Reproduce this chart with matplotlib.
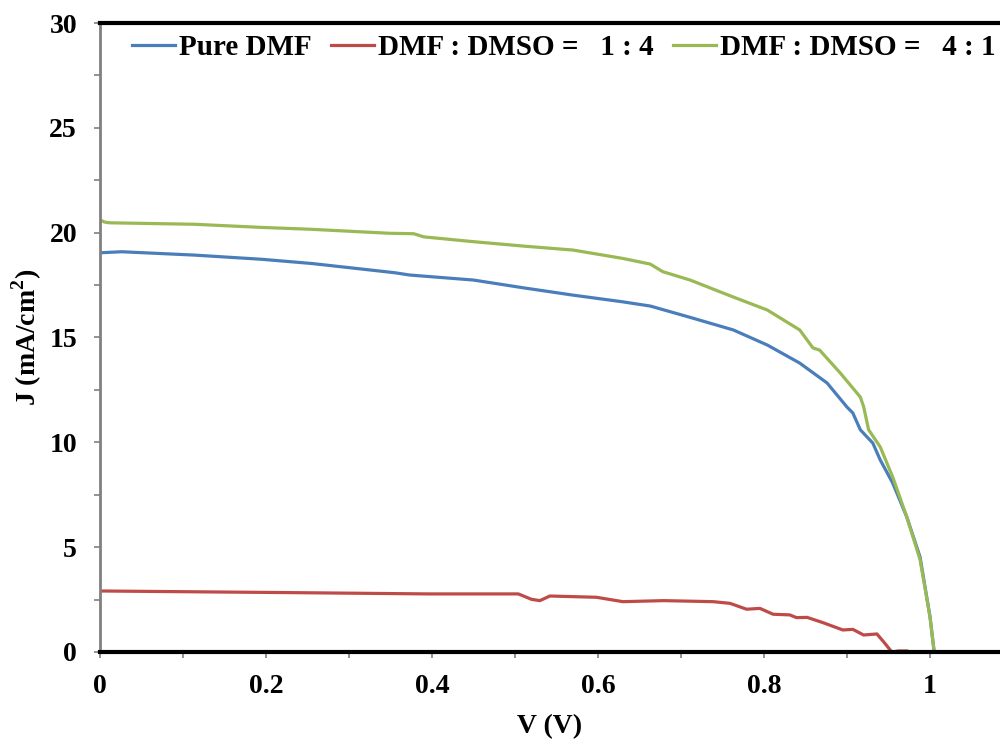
import matplotlib
matplotlib.use("Agg")
import matplotlib.pyplot as plt
from matplotlib.ticker import MultipleLocator

# J-V curves for perovskite films from different solvent ratios
v_pure = [0, 0.026, 0.114, 0.195, 0.255, 0.355, 0.373, 0.45, 0.51, 0.57, 0.63, 0.663,
          0.711, 0.763, 0.804, 0.843, 0.876, 0.9, 0.907, 0.916, 0.924, 0.931, 0.94,
          0.955, 0.972, 0.988, 1.0, 1.005]
j_pure = [19.04, 19.09, 18.93, 18.73, 18.53, 18.09, 17.98, 17.74, 17.37, 17.02, 16.7, 16.5,
          15.96, 15.36, 14.64, 13.78, 12.83, 11.68, 11.4, 10.6, 10.26, 9.97, 9.16,
          8.06, 6.44, 4.53, 1.67, 0]

v_14 = [0, 0.235, 0.395, 0.504, 0.52, 0.53, 0.542, 0.598, 0.63, 0.679, 0.739, 0.759,
        0.779, 0.795, 0.811, 0.831, 0.839, 0.852, 0.871, 0.895, 0.907, 0.92, 0.936,
        0.944, 0.954, 0.962, 0.972]
j_14 = [2.91, 2.83, 2.77, 2.77, 2.51, 2.45, 2.67, 2.61, 2.4, 2.45, 2.4, 2.32,
        2.04, 2.08, 1.8, 1.77, 1.64, 1.65, 1.4, 1.05, 1.08, 0.81, 0.86,
        0.49, 0.0, 0.05, 0.05]

v_41 = [0, 0.006, 0.012, 0.114, 0.195, 0.255, 0.349, 0.378, 0.39, 0.45, 0.51, 0.57,
        0.63, 0.663, 0.678, 0.711, 0.763, 0.804, 0.843, 0.859, 0.867, 0.892, 0.916,
        0.92, 0.926, 0.94, 0.955, 0.972, 0.988, 1.0, 1.005]
j_41 = [20.6, 20.5, 20.47, 20.4, 20.25, 20.16, 19.97, 19.95, 19.8, 19.57, 19.36, 19.17,
        18.77, 18.5, 18.14, 17.74, 16.93, 16.31, 15.36, 14.5, 14.4, 13.3, 12.16,
        11.7, 10.6, 9.78, 8.35, 6.44, 4.4, 1.67, 0]

labels = ["Pure DMF", "DMF : DMSO =   1 : 4", "DMF : DMSO =   4 : 1"]
x_ticks = [0, 0.2, 0.4, 0.6, 0.8, 1.0]
x_tick_labels = ["0", "0.2", "0.4", "0.6", "0.8", "1"]
y_ticks = [0, 5, 10, 15, 20, 25, 30]

plt.rcParams["font.family"] = ["Liberation Serif", "DejaVu Serif"]
plt.rcParams["font.weight"] = "bold"
plt.rcParams["mathtext.fontset"] = "custom"
plt.rcParams["mathtext.rm"] = "Liberation Serif:bold"
plt.rcParams["mathtext.bf"] = "Liberation Serif:bold"

fig = plt.figure(figsize=(10, 7.42), dpi=100)
ax = fig.add_axes([0.1, 0.1213, 0.9, 0.8477])

lw = 2.3
ax.plot(v_pure, j_pure, color="#4A7EBB", lw=lw, label=labels[0])
ax.plot(v_14, j_14, color="#BE4B48", lw=lw, label=labels[1])
ax.plot(v_41, j_41, color="#98B954", lw=lw, label=labels[2])

ax.set_xlim(0, 1.0843)
ax.set_ylim(0, 30)

ax.set_xticks(x_ticks)
ax.set_xticklabels(x_tick_labels)
ax.xaxis.set_minor_locator(MultipleLocator(0.1))
ax.set_yticks(y_ticks)
ax.yaxis.set_minor_locator(MultipleLocator(2.5))

ax.tick_params(axis="both", which="both", direction="out", color="#808080",
               width=1.2, length=4, labelsize=20)
ax.tick_params(axis="x", which="major", pad=12)
ax.tick_params(axis="y", which="major", pad=12.5)

ax.spines["right"].set_visible(False)
ax.spines["left"].set_color("#808080")
ax.spines["left"].set_linewidth(2)
ax.spines["bottom"].set_color("black")
ax.spines["bottom"].set_linewidth(3)
ax.spines["top"].set_color("black")
ax.spines["top"].set_linewidth(3)

ax.set_xlabel("V (V)", fontsize=20, fontweight="bold", labelpad=11)
ax.set_ylabel("J (mA/cm$^{\\mathbf{2}}$)", fontsize=20, fontweight="bold", labelpad=4)

ax.legend(loc="upper left", bbox_to_anchor=(0.0356, 0.9825), ncol=3, frameon=False,
          handlelength=1.48, handletextpad=0.14, columnspacing=0.65,
          borderpad=0, borderaxespad=0, prop={"weight": "bold", "size": 21})

fig.savefig("out.png", dpi=100)
